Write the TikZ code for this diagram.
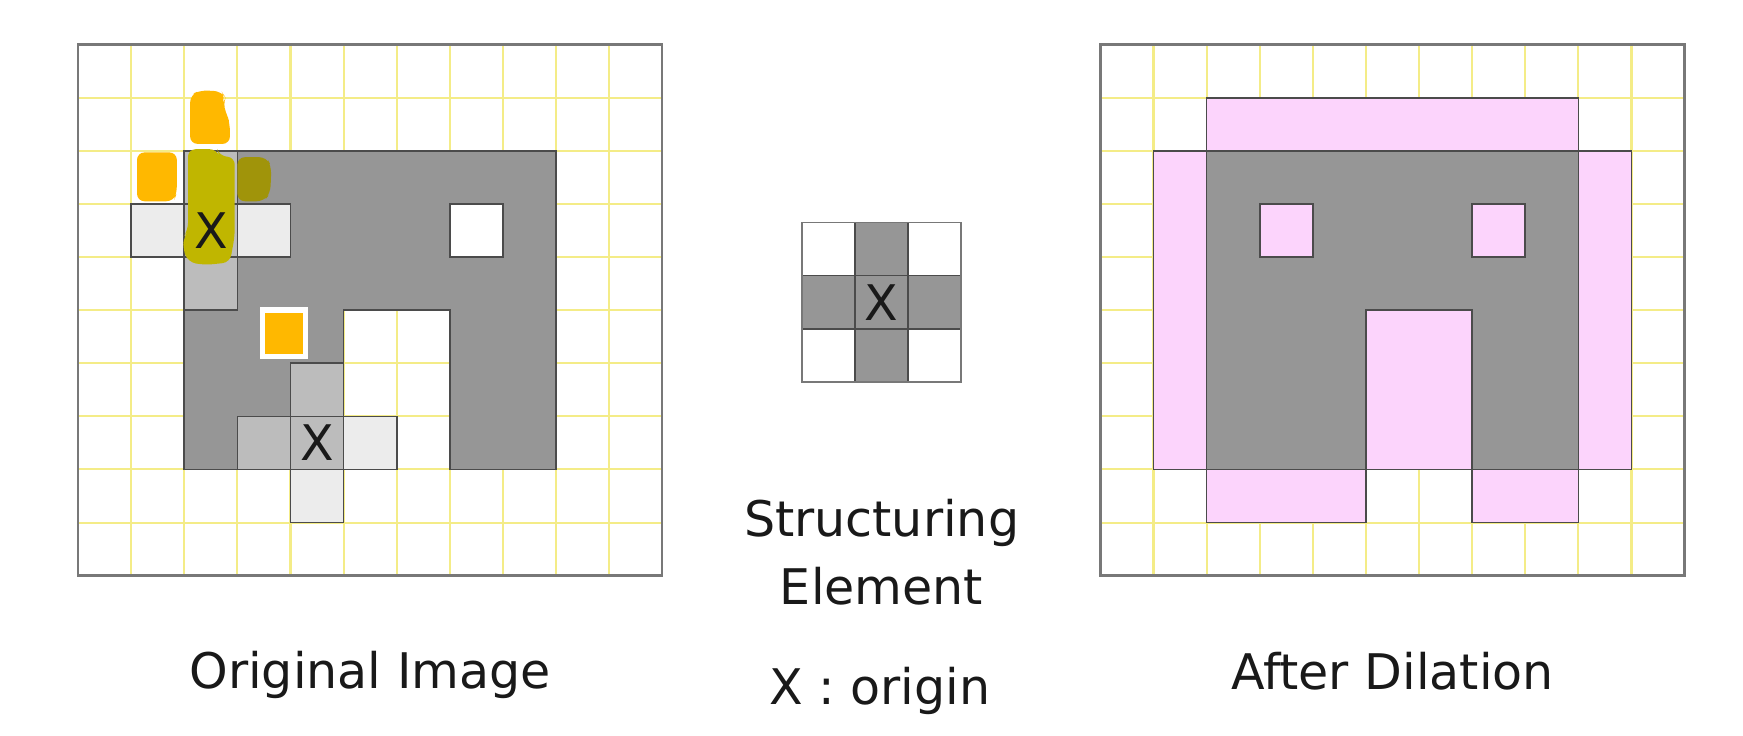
\documentclass[tikz,border=0pt]{standalone}
\usepackage{fontspec}
\setmainfont{DejaVu Sans}

\definecolor{gridYellow}{RGB}{244,236,135}
\definecolor{frameGray}{RGB}{120,120,120}
\definecolor{objGray}{RGB}{150,150,150}
\definecolor{edgeGray}{RGB}{75,75,75}
\definecolor{addPink}{RGB}{252,212,252}
\definecolor{seLight}{RGB}{236,236,236}
\definecolor{seMid}{RGB}{188,188,188}
\definecolor{penOrange}{RGB}{255,184,0}
\definecolor{penOlive}{RGB}{192,182,0}
\definecolor{penDark}{RGB}{160,148,10}
\definecolor{textGray}{RGB}{25,25,25}

\begin{document}
\begin{tikzpicture}[
    gridline/.style = {draw=gridYellow, line width=1.1pt},
    panel/.style    = {draw=frameGray, line width=1.3pt},
    object/.style   = {fill=objGray, draw=edgeGray, line width=0.9pt},
    added/.style    = {fill=addPink, draw=edgeGray, line width=0.9pt},
    hole/.style     = {fill=white, draw=edgeGray, line width=0.9pt},
    seout/.style    = {fill=seLight, draw=edgeGray, line width=0.9pt},
    sein/.style     = {fill=seMid, draw=edgeGray, line width=0.9pt},
    secell/.style   = {fill=white, draw=edgeGray, line width=0.9pt},
    secross/.style  = {fill=objGray, draw=edgeGray, line width=0.9pt},
    pen/.style      = {rounded corners=4pt},
    caption/.style  = {font=\fontsize{26.3}{32}\selectfont, text=textGray, anchor=base, inner sep=0pt},
    xmark/.style    = {font=\fontsize{26.3}{32}\selectfont, text=textGray, inner sep=0pt}
]

% background, also the bounding box
\fill[white] (0,0) rectangle (32.82,13.84);

% original image
\begin{scope}[shift={(1.47,13)}, yscale=-1]
  \foreach \c in {1,...,10}
    \draw[gridline] (\c,0) -- (\c,10);
  \foreach \r in {1,...,9}
    \draw[gridline] (0,\r) -- (11,\r);
  \path[object] (2,2) -- (9,2) -- (9,8) -- (7,8) -- (7,5) -- (5,5) -- (5,8) -- (2,8) -- cycle;
  \path[hole] (7,3) rectangle (8,4);
  % structuring element, first place
  \path[seout] (1,3) rectangle (2,4);
  \path[seout] (3,3) rectangle (4,4);
  \path[sein] (2,2) rectangle (3,3);
  \path[sein] (2,3) rectangle (3,4);
  \path[sein] (2,4) rectangle (3,5);
  % structuring element, second place
  \path[sein] (3,7) rectangle (4,8);
  \path[sein] (4,6) rectangle (5,7);
  \path[sein] (4,7) rectangle (5,8);
  \path[seout] (5,7) rectangle (6,8);
  \path[seout] (4,8) rectangle (5,9);
  % highlighter strokes
  \fill[pen, penOrange] (2.11,1.87) -- (2.11,0.95) -- (2.3,0.86) -- (2.7,0.88) -- (2.78,1.0)
      -- (2.72,1.12) -- (2.8,1.3) -- (2.86,1.5) -- (2.86,1.87) -- cycle;
  \fill[pen, penOrange] (1.11,2.03) -- (1.86,2.03) -- (1.86,2.8) -- (1.8,2.95) -- (1.11,2.95) -- cycle;
  \fill[pen, penOlive] (2.07,1.97) -- (2.62,1.97) -- (2.66,2.1) -- (2.95,2.12) -- (2.95,3.6)
      -- (2.86,4.1) -- (2.4,4.15) -- (2.08,4.1) -- (1.97,3.85) -- (2.0,3.6) -- (2.07,3.5) -- cycle;
  \fill[pen, penDark] (3.0,2.12) -- (3.55,2.12) -- (3.64,2.3) -- (3.62,2.8) -- (3.5,2.95) -- (3.0,2.95) -- cycle;
  \filldraw[fill=penOrange, draw=white, line width=3pt] (3.47,5.0) rectangle (4.28,5.87);
  \node[xmark] (xa) at (2.5,3.5) {X};
  \node[xmark] (xb) at (4.5,7.5) {X};
  \draw[panel] (0,0) rectangle (11,10);
\end{scope}

% structuring element
\begin{scope}[shift={(15.1,9.65)}, yscale=-1]
  \foreach \c/\r in {0/0, 2/0, 0/2, 2/2}
    \path[secell] (\c,\r) rectangle +(1,1);
  \foreach \c/\r in {1/0, 0/1, 1/1, 2/1, 1/2}
    \path[secross] (\c,\r) rectangle +(1,1);
  \draw[draw=frameGray, line width=0.9pt] (0,0) rectangle (3,3);
  \node[xmark] (xse) at (1.5,1.5) {X};
\end{scope}

% after dilation
\begin{scope}[shift={(20.72,13)}, yscale=-1]
  \foreach \c in {1,...,10}
    \draw[gridline] (\c,0) -- (\c,10);
  \foreach \r in {1,...,9}
    \draw[gridline] (0,\r) -- (11,\r);
  \path[added] (2,1) rectangle (9,2);
  \path[added] (1,2) rectangle (2,8);
  \path[added] (9,2) rectangle (10,8);
  \path[added] (2,8) rectangle (5,9);
  \path[added] (7,8) rectangle (9,9);
  \path[object] (2,2) -- (9,2) -- (9,8) -- (7,8) -- (7,5) -- (5,5) -- (5,8) -- (2,8) -- cycle;
  \path[added] (5,5) rectangle (7,8);
  \path[added] (3,3) rectangle (4,4);
  \path[added] (7,3) rectangle (8,4);
  \draw[panel] (0,0) rectangle (11,10);
\end{scope}

% captions
\node[caption] (origcap) at (6.97,0.88) {Original Image};
\node[caption] (secap)   at (16.6,3.73) {Structuring};
\node[caption] (elcap)   at (16.6,2.45) {Element};
\node[caption] (xnote)   at (16.57,0.57) {X : origin};
\node[caption] (dilcap)  at (26.22,0.86) {After Dilation};

\end{tikzpicture}
\end{document}
